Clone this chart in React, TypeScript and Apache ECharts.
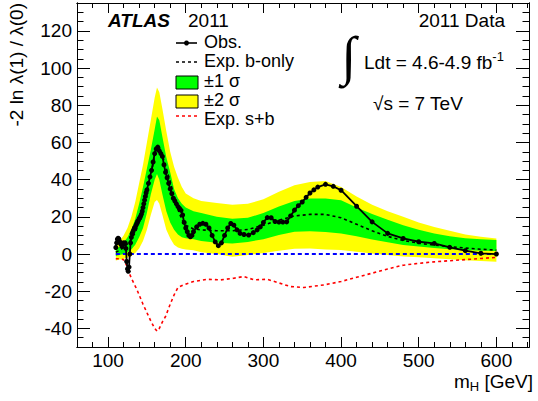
import React, { useEffect, useRef } from "react";
import * as echarts from "echarts";

// observed -2 ln lambda vs m_H
const obsMass = [
  110, 111, 112, 113, 114, 115, 116, 117, 118, 119, 120, 121, 122, 123, 124, 125, 126, 127, 128, 129,
  130, 131, 132, 133, 134, 135, 136, 137, 138, 139, 140, 141, 142, 143, 144, 145, 146, 147, 148, 149,
  150, 152, 154, 156, 158, 160, 162, 164, 166, 168, 170, 172, 174, 176, 178, 180, 182, 184, 186, 188,
  190, 192, 194, 196, 198, 200, 202, 204, 206, 208, 210, 214, 218, 222, 226, 230, 234, 238, 242, 246,
  250, 254, 258, 262, 266, 270, 275, 281, 287, 292, 296, 300, 305, 310, 315, 320, 325, 330, 335, 340,
  345, 350, 355, 360, 365, 370, 380, 390, 400, 420, 440, 460, 480, 500, 520, 540, 560, 580, 600,
];
const obsVal = [
  3.5, 6, 8, 8.5, 8, 6.5, 5.5, 6, 4, 5.5, 6, 5.5, 6, 3, -4, -8, -9.3, -7, 0, 6,
  9, 11, 12, 13, 14, 14.5, 15.5, 16.5, 17.5, 18, 19, 19.5, 20.5, 21.5, 23, 25, 27, 29, 31, 33,
  34.5, 38, 41.5, 45, 49.5, 54, 56.5, 57.5, 55.5, 54, 52.5, 48, 44, 41, 38, 35, 32.5, 30, 28.5, 27,
  25.5, 24.5, 23.5, 21, 17, 14, 12, 10, 9.3, 10, 12, 14.6, 16, 16.5, 16, 14, 10, 6.5, 4.5, 6,
  10, 14, 16.4, 15.5, 13, 11.1, 10.5, 10.2, 11.5, 13, 14.6, 17, 19.6, 19.5, 17.5, 17.2, 17.2, 17.3, 20.5, 23.6,
  26, 28, 30.5, 32.8, 34.5, 36, 37.5, 36.4, 34.3, 25.7, 17.3, 11.1, 8.4, 6.6, 5.7, 3.6, 1.8, 0.4, 0,
];

// expected (background only) and expected (signal + background)
const expMass = [
  110, 115, 120, 125, 130, 135, 140, 145, 150, 155, 160, 163, 166, 170, 175, 180, 185, 190, 195, 200,
  210, 220, 240, 260, 280, 300, 320, 340, 360, 380, 400, 420, 440, 460, 480, 500, 520, 540, 560, 580, 600,
];
const expVal = [
  1, 2, 3.5, 5.5, 8, 11.5, 17, 24, 32, 42, 53, 58.5, 57.5, 53, 46, 39, 31, 24, 18.5, 15.5,
  13.5, 13, 12.5, 12.5, 13.2, 15.5, 18.2, 20.5, 21.3, 21.3, 19.5, 16, 12.5, 9.5, 7.3, 5.8, 4.8, 4, 3.2, 2.6, 2.1,
];
const sbMass = [
  110, 115, 120, 125, 127, 130, 137, 145, 150, 155, 160, 163, 166, 170, 174, 180, 185, 190, 197, 210,
  228, 245, 262, 275, 288, 305, 318, 335, 352, 378, 400, 420, 440, 460, 480, 500, 520, 540, 560, 580, 600,
];
const sbVal = [
  -2.5, -2.5, -3, -7, -10, -13, -19, -27, -31.5, -36, -40, -41.5, -40, -36.5, -33.6, -27, -22, -18, -16.6, -14.8,
  -13.6, -13.9, -13, -12.1, -13.9, -13.6, -15.3, -17.5, -18, -16.6, -14.8, -12.5, -10.3, -8, -6, -5, -4.2, -3.6, -3, -2.4, -1.8,
];
const bkgMass = [110, 600];
const bkgVal = [0, 0];

// +-1 sigma and +-2 sigma bands around the b-only expectation
const bandMass = expMass;
const band2Hi = [
  5, 7, 10, 14, 20, 28, 38, 48, 60, 72, 84, 89.5, 87, 78, 66, 55, 47, 41, 36, 32.5,
  30, 28.5, 27.5, 26.5, 27, 29.5, 33.5, 37, 38.8, 39.3, 36, 31, 26.5, 23, 20, 17, 14.5, 12.5, 10.5, 9.3, 8.4,
];
const band1Hi = [
  2.5, 4, 6, 9, 13, 19, 27, 36, 46, 56, 67, 74, 72, 63, 52, 44, 35, 30, 27, 25,
  23, 22, 20, 19, 19.5, 22, 25.5, 28.5, 29.8, 29.8, 28.9, 25, 21.5, 18.5, 15.5, 13, 11, 9.5, 8.5, 8, 7.5,
];
const band1Lo = [
  -1, -0.5, 0, 1, 2.5, 5, 9, 14, 22, 32, 40, 43, 40, 32, 23, 17, 13, 10.5, 9, 8.5,
  8, 7, 6, 5.7, 6.5, 8, 10.2, 12, 12.3, 11.8, 11, 9.5, 7.8, 6.3, 4.9, 4, 3.2, 2.6, 2.1, 1.8, 1.6,
];
const band2Lo = [
  -3.5, -3, -2.5, -2, -1, 0.5, 3, 7, 13, 21, 28, 29, 27, 21, 13, 8.5, 5, 3.5, 2.8, 2.5,
  2, 1, 0, -1.4, -0.5, 0.6, 1.8, 2.8, 3, 2.5, 2.1, 1.2, 0.3, -0.5, -1.3, -1.8, -2.3, -2.8, -3.3, -3.7, -4.1,
];

const xMajor = [100, 200, 300, 400, 500, 600];
const yMajor = [-40, -20, 0, 20, 40, 60, 80, 100, 120];

const FONT = "'Liberation Sans', Arial, Helvetica, sans-serif";

const pairs = (xs: number[], ys: number[]) => xs.map((x, i) => [x, ys[i]]);

const bandSeries = (lo: number[], hi: number[], color: string) => ({
  type: "custom",
  silent: true,
  data: [[bandMass[0], lo[0]]],
  renderItem: (_params: any, api: any) => {
    const pts: number[][] = [];
    bandMass.forEach((m, i) => pts.push(api.coord([m, hi[i]])));
    for (let i = bandMass.length - 1; i >= 0; i--) pts.push(api.coord([bandMass[i], lo[i]]));
    return { type: "polygon", shape: { points: pts }, style: { fill: color, stroke: null } };
  },
});

const frameAxis = (position: string, min: number, max: number, interval: number, len: number) => ({
  type: "value",
  position,
  min,
  max,
  interval,
  axisLine: { show: true, onZero: false, lineStyle: { color: "#000", width: 1 } },
  axisTick: { show: true, inside: true, length: len, lineStyle: { color: "#000", width: 1 } },
  axisLabel: { show: false },
  splitLine: { show: false },
});

const App = () => {
  const chartRef = useRef(null);

  useEffect(() => {
    const chart = echarts.init(chartRef.current, null, { renderer: "svg" });

    const xMajorAxis = (position: string, labels: boolean) => ({
      ...frameAxis(position, 60, 642, 20, 10),
      axisTick: { show: true, inside: true, length: 10, customValues: xMajor, lineStyle: { color: "#000" } },
      axisLabel: labels
        ? { show: true, customValues: xMajor, color: "#000", fontSize: 19, lineHeight: 15, fontFamily: FONT, margin: 6 }
        : { show: false },
    });
    const yMajorAxis = (position: string, labels: boolean) => ({
      ...frameAxis(position, -50, 135, 5, 13),
      axisTick: { show: true, inside: true, length: 13, customValues: yMajor, lineStyle: { color: "#000" } },
      axisLabel: labels
        ? { show: true, customValues: yMajor, color: "#000", fontSize: 19, fontFamily: FONT, margin: 5 }
        : { show: false },
    });

    const txt = (x: number, y: number, text: string, extra: any = {}) => ({
      type: "text",
      x,
      y,
      z: 100,
      style: {
        text,
        fill: "#000",
        fontSize: 19,
        lineHeight: 16,
        fontFamily: FONT,
        verticalAlign: "middle",
        ...extra,
      },
    });
    const leg = { fontSize: 18, lineHeight: 15 };

    const option = {
      animation: false,
      backgroundColor: "#fff",
      grid: { left: 77, right: 9, top: 3, bottom: 54, containLabel: false },
      xAxis: [
        frameAxis("bottom", 60, 642, 20, 5),
        xMajorAxis("bottom", true),
        frameAxis("top", 60, 642, 20, 5),
        xMajorAxis("top", false),
      ],
      yAxis: [
        frameAxis("left", -50, 135, 5, 6.5),
        yMajorAxis("left", true),
        frameAxis("right", -50, 135, 5, 6.5),
        yMajorAxis("right", false),
      ],
      series: [
        bandSeries(band2Lo, band2Hi, "#ffff00"),
        bandSeries(band1Lo, band1Hi, "#00ff00"),
        {
          name: "zero",
          type: "line",
          data: pairs(bkgMass, bkgVal),
          symbol: "none",
          lineStyle: { color: "#0000ff", width: 2, type: [4, 3] },
        },
        {
          name: "Exp. s+b",
          type: "line",
          data: pairs(sbMass, sbVal),
          symbol: "none",
          lineStyle: { color: "#ff0000", width: 1.6, type: [3, 3] },
        },
        {
          name: "Exp. b-only",
          type: "line",
          data: pairs(expMass, expVal),
          symbol: "none",
          lineStyle: { color: "#000", width: 1.6, type: [3, 3] },
        },
        {
          name: "Obs.",
          type: "line",
          data: pairs(obsMass, obsVal),
          symbol: "circle",
          symbolSize: 5,
          showSymbol: true,
          lineStyle: { color: "#000", width: 1.8 },
          itemStyle: { color: "#000" },
        },
      ],
      graphic: [
        // labels
        txt(108, 20, "ATLAS", { fontWeight: "bold", fontStyle: "italic" }),
        txt(188, 20, "2011"),
        txt(505, 20, "2011 Data", { align: "right" }),
        txt(349, 56, "∫", { fontSize: 54, lineHeight: 54, fontFamily: "'Liberation Serif', serif", align: "center" }),
        {
          type: "text",
          x: 364,
          y: 62,
          z: 100,
          style: {
            text: "{n|Ldt = 4.6-4.9 fb}{s|-1}",
            verticalAlign: "middle",
            rich: {
              n: { fontSize: 19, lineHeight: 16, fontFamily: FONT, fill: "#000" },
              s: { fontSize: 13, fontFamily: FONT, fill: "#000", verticalAlign: "top", padding: [0, 0, 12, 0] },
            },
          },
        },
        txt(373, 103, "√s = 7 TeV"),
        // legend
        { type: "line", z: 100, shape: { x1: 176, y1: 43, x2: 197, y2: 43 }, style: { stroke: "#000", lineWidth: 1.6 } },
        { type: "circle", z: 101, shape: { cx: 186.5, cy: 43, r: 2.5 }, style: { fill: "#000" } },
        txt(204, 42, "Obs.", leg),
        { type: "line", z: 100, shape: { x1: 176, y1: 62, x2: 197, y2: 62 }, style: { stroke: "#000", lineWidth: 1.6, lineDash: [3, 3] } },
        txt(204, 61, "Exp. b-only", leg),
        { type: "rect", z: 100, shape: { x: 176, y: 76, width: 22, height: 13 }, style: { fill: "#00ff00", stroke: "#000", lineWidth: 1 } },
        txt(204, 80.5, "±1 σ", leg),
        { type: "rect", z: 100, shape: { x: 176, y: 95, width: 22, height: 13 }, style: { fill: "#ffff00", stroke: "#000", lineWidth: 1 } },
        txt(204, 99.5, "±2 σ", leg),
        { type: "line", z: 100, shape: { x1: 176, y1: 116, x2: 197, y2: 116 }, style: { stroke: "#ff0000", lineWidth: 1.6, lineDash: [3, 3] } },
        txt(204, 119, "Exp. s+b", leg),
        // axis titles
        {
          type: "text",
          x: 533,
          y: 381,
          z: 100,
          style: {
            text: "{n|m}{s|H}{n| [GeV]}",
            align: "right",
            verticalAlign: "middle",
            rich: {
              n: { fontSize: 19, lineHeight: 16, fontFamily: FONT, fill: "#000" },
              s: { fontSize: 13, fontFamily: FONT, fill: "#000", padding: [10, 0, 0, 0] },
            },
          },
        },
        {
          type: "text",
          x: 16,
          y: 3,
          z: 100,
          rotation: Math.PI / 2,
          style: {
            text: "-2 ln λ(1) / λ(0)",
            fill: "#000",
            fontSize: 19,
            fontFamily: FONT,
            align: "right",
            verticalAlign: "middle",
          },
        },
      ],
    };

    chart.setOption(option as any);

    return () => {
      chart.dispose();
    };
  }, []);

  return (
    <div
      ref={chartRef}
      style={{ position: "fixed", left: 0, top: 0, width: 538, height: 401 }}
    />
  );
};

export default App;
